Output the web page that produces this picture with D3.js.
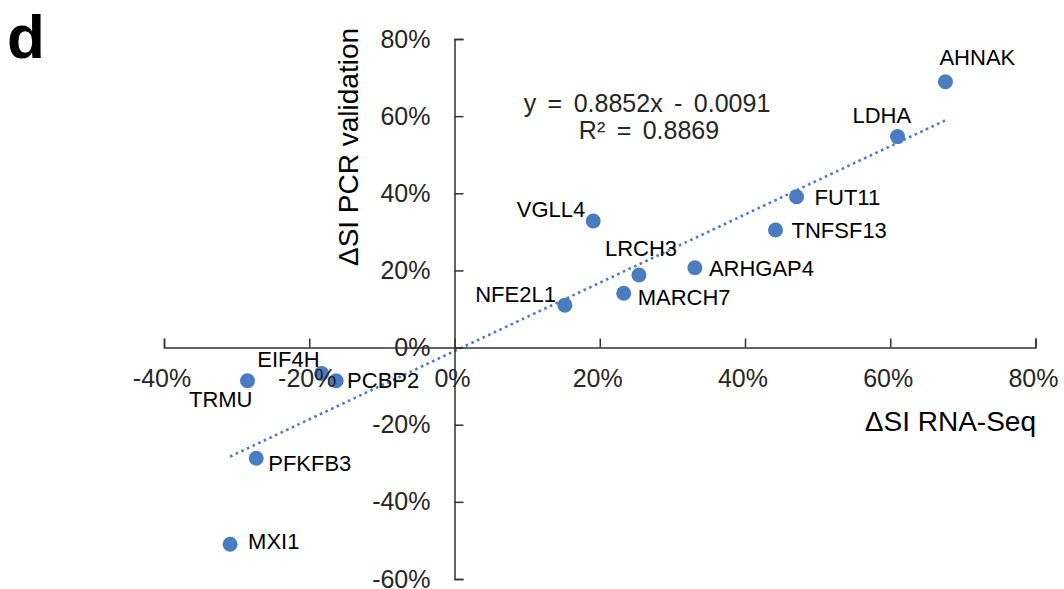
<!DOCTYPE html>
<html>
<head>
<meta charset="utf-8">
<script src="https://cdn.jsdelivr.net/npm/d3@7"></script>
<style>
  html, body { margin: 0; padding: 0; background: #fff; }
  svg { display: block; font-family: "Liberation Sans", Arial, sans-serif; }
</style>
</head>
<body>
<svg id="chart" width="1064" height="589"></svg>
<script>
// Splicing-index change per gene: RNA-Seq (x) vs PCR validation (y)
const genes   = ["AHNAK", "LDHA", "FUT11", "TNFSF13", "VGLL4", "LRCH3", "ARHGAP4",
                 "MARCH7", "NFE2L1", "EIF4H", "PCBP2", "TRMU", "PFKFB3", "MXI1"];
const rnaSeq  = [0.676, 0.610, 0.471, 0.442, 0.191, 0.254, 0.331,
                 0.233, 0.152, -0.183, -0.163, -0.285, -0.273, -0.309];
const pcr     = [0.689, 0.547, 0.391, 0.305, 0.328, 0.188, 0.207,
                 0.141, 0.110, -0.067, -0.086, -0.086, -0.287, -0.510];
const xTicks  = [-0.4, -0.2, 0, 0.2, 0.4, 0.6, 0.8];
const yTicks  = [-0.6, -0.4, -0.2, 0, 0.2, 0.4, 0.6, 0.8];
const slope = 0.8852, intercept = -0.0091, rSquared = 0.8869;

// Where each gene name sits relative to its marker
const labelPlacement = {
  AHNAK:   { anchor: "start", dx: -6,  dy: -17 },
  LDHA:    { anchor: "start", dx: -45, dy: -14 },
  FUT11:   { anchor: "start", dx: 18,  dy: 8 },
  TNFSF13: { anchor: "start", dx: 16,  dy: 8 },
  VGLL4:   { anchor: "end",   dx: -8,  dy: -4 },
  LRCH3:   { anchor: "start", dx: -34, dy: -19 },
  ARHGAP4: { anchor: "start", dx: 14,  dy: 8 },
  MARCH7:  { anchor: "start", dx: 14,  dy: 12 },
  NFE2L1:  { anchor: "end",   dx: -9,  dy: -3 },
  EIF4H:   { anchor: "end",   dx: -2,  dy: -6 },
  PCBP2:   { anchor: "start", dx: 11,  dy: 7 },
  TRMU:    { anchor: "end",   dx: 5,   dy: 26 },
  PFKFB3:  { anchor: "start", dx: 12,  dy: 13 },
  MXI1:    { anchor: "start", dx: 18,  dy: 5 }
};

const svg = d3.select("#chart");
const x = d3.scaleLinear().domain([-0.4, 0.8]).range([164, 1035.5]);
const y = d3.scaleLinear().domain([-0.6, 0.8]).range([579, 39]);
// Percent labels with a plain hyphen for negatives
const pct = v => d3.format(".0%")(v).replace("\u2212", "-");
const blue = "#4a7cc0";
const ink = "#262626";

const points = genes.map((g, i) => ({ gene: g, x: rnaSeq[i], y: pcr[i] }));

// Panel letter
svg.append("text").attr("x", 7).attr("y", 58)
  .attr("font-size", 62).attr("font-weight", "bold").attr("fill", "#000").text("d");

// Markers
svg.append("g").selectAll("circle").data(points).join("circle")
  .attr("cx", d => x(d.x)).attr("cy", d => y(d.y)).attr("r", 7.5)
  .attr("fill", blue);

// Linear trendline over the data's x extent
const [xmin, xmax] = d3.extent(rnaSeq);
svg.append("line")
  .attr("x1", x(xmin)).attr("y1", y(slope * xmin + intercept))
  .attr("x2", x(xmax)).attr("y2", y(slope * xmax + intercept))
  .attr("stroke", blue).attr("stroke-width", 2.6)
  .attr("stroke-dasharray", "2.6,3.6");

// Axes crossing at the origin
const xAxis = d3.axisTop(x).tickValues(xTicks).tickFormat(() => "").tickSizeInner(9).tickSizeOuter(9);
const gx = svg.append("g").attr("transform", `translate(0,${y(0)})`).call(xAxis);
const yAxis = d3.axisRight(y).tickValues(yTicks).tickFormat(() => "").tickSizeInner(9).tickSizeOuter(9);
const gy = svg.append("g").attr("transform", `translate(${x(0)},0)`).call(yAxis);
[gx, gy].forEach(g => {
  g.selectAll("path, line").attr("stroke", "#333").attr("stroke-width", 1.5);
});

// Tick labels
svg.append("g").selectAll("text").data(xTicks).join("text")
  .attr("x", d => x(d) - 2).attr("y", y(0) + 39)
  .attr("text-anchor", "middle").attr("font-size", 25).attr("fill", ink)
  .text(d => pct(d));
svg.append("g").selectAll("text").data(yTicks).join("text")
  .attr("x", x(0) - 24).attr("y", d => y(d) + 8.5)
  .attr("text-anchor", "end").attr("font-size", 25).attr("fill", ink)
  .text(d => pct(d));

// Gene labels
svg.append("g").selectAll("text").data(points).join("text")
  .attr("x", d => x(d.x) + labelPlacement[d.gene].dx)
  .attr("y", d => y(d.y) + labelPlacement[d.gene].dy)
  .attr("text-anchor", d => labelPlacement[d.gene].anchor)
  .attr("font-size", 22).attr("fill", "#000")
  .text(d => d.gene);

// Axis titles
svg.append("text").attr("x", 1036).attr("y", 431)
  .attr("text-anchor", "end").attr("font-size", 28).attr("fill", "#000")
  .text("ΔSI RNA-Seq");
svg.append("text")
  .attr("transform", "translate(358,147) rotate(-90)")
  .attr("text-anchor", "middle").attr("font-size", 28).attr("fill", "#000")
  .text("ΔSI PCR validation");

// Regression equation
const eq = svg.append("g").attr("font-size", 25).attr("fill", ink)
  .attr("text-anchor", "middle").attr("word-spacing", 4.5);
eq.append("text").attr("x", 647).attr("y", 112)
  .text(`y = ${slope}x - ${Math.abs(intercept).toFixed(4)}`);
eq.append("text").attr("x", 649).attr("y", 139)
  .text(`R² = ${rSquared}`);
</script>
</body>
</html>
